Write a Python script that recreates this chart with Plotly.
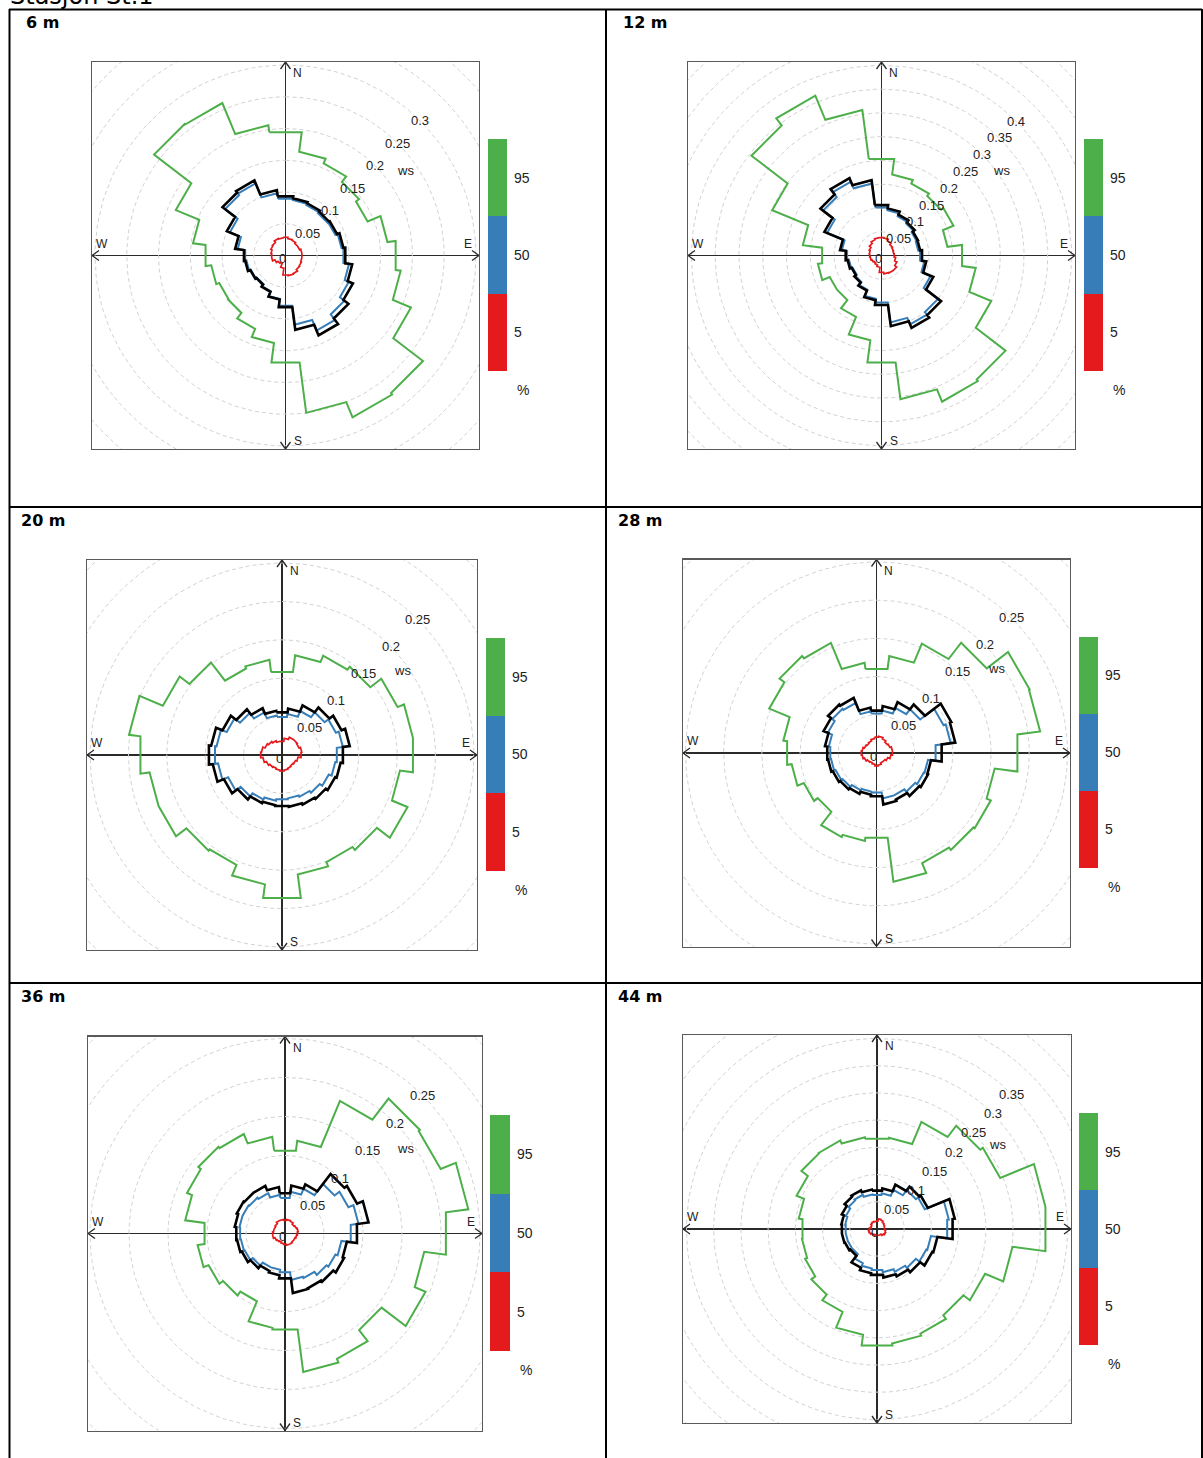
import math
import plotly.graph_objects as go

W, H = 1203, 1458

# ---------------- data ----------------
station = "Stasjon St.1"
depths = ["6 m", "12 m", "20 m", "28 m", "36 m", "44 m"]
wd_sectors = list(range(0, 360, 15))      # sector centres (deg)
sector_width = 15
pct_labels = ["5", "50", "95"]
ring_max = [0.30, 0.40, 0.25, 0.25, 0.25, 0.35]

p95_6m = [0.196, 0.165, 0.157, 0.146, 0.140, 0.162, 0.175, 0.183, 0.214, 0.273, 0.276, 0.250,
          0.170, 0.139, 0.125, 0.114, 0.113, 0.118, 0.127, 0.147, 0.187, 0.261, 0.260, 0.207]
mean_6m = [0.094, 0.091, 0.089, 0.087, 0.088, 0.092, 0.095, 0.106, 0.115, 0.125, 0.136, 0.118,
           0.082, 0.070, 0.062, 0.058, 0.060, 0.064, 0.066, 0.080, 0.100, 0.125, 0.128, 0.104]
p50_6m = [0.090, 0.088, 0.086, 0.084, 0.085, 0.089, 0.092, 0.101, 0.108, 0.117, 0.128, 0.110,
          0.080, 0.069, 0.061, 0.057, 0.059, 0.062, 0.064, 0.076, 0.095, 0.120, 0.123, 0.099]
p5_6m = [0.029, 0.027, 0.026, 0.024, 0.024, 0.026, 0.026, 0.026, 0.027, 0.028, 0.031, 0.032,
         0.031, 0.020, 0.014, 0.015, 0.018, 0.022, 0.022, 0.023, 0.025, 0.026, 0.029, 0.028]

p95_12m = [0.205, 0.172, 0.164, 0.158, 0.164, 0.140, 0.171, 0.200, 0.250, 0.329, 0.333, 0.305,
           0.227, 0.180, 0.140, 0.118, 0.118, 0.135, 0.126, 0.167, 0.249, 0.345, 0.364, 0.309]
mean_12m = [0.107, 0.100, 0.093, 0.088, 0.083, 0.082, 0.086, 0.095, 0.118, 0.158, 0.165, 0.150,
            0.105, 0.095, 0.080, 0.072, 0.068, 0.072, 0.076, 0.088, 0.130, 0.162, 0.176, 0.160]
p50_12m = [0.102, 0.096, 0.089, 0.085, 0.080, 0.078, 0.082, 0.091, 0.112, 0.150, 0.157, 0.142,
           0.100, 0.092, 0.078, 0.070, 0.066, 0.069, 0.073, 0.084, 0.124, 0.155, 0.168, 0.153]
p5_12m = [0.038, 0.037, 0.033, 0.029, 0.027, 0.026, 0.027, 0.030, 0.035, 0.040, 0.040, 0.039,
          0.036, 0.025, 0.022, 0.020, 0.022, 0.024, 0.025, 0.026, 0.028, 0.032, 0.036, 0.038]

p95_20m = [0.109, 0.131, 0.140, 0.145, 0.163, 0.172, 0.172, 0.155, 0.177, 0.156, 0.151, 0.157,
           0.188, 0.170, 0.155, 0.157, 0.174, 0.174, 0.186, 0.201, 0.168, 0.152, 0.122, 0.125]
mean_20m = [0.056, 0.061, 0.070, 0.078, 0.084, 0.089, 0.080, 0.077, 0.075, 0.072, 0.070, 0.068,
            0.067, 0.066, 0.068, 0.073, 0.082, 0.091, 0.096, 0.093, 0.084, 0.075, 0.066, 0.058]
p50_20m = [0.050, 0.054, 0.062, 0.070, 0.076, 0.080, 0.072, 0.070, 0.066, 0.062, 0.059, 0.057,
           0.058, 0.060, 0.063, 0.068, 0.076, 0.084, 0.088, 0.086, 0.078, 0.069, 0.060, 0.052]
p5_20m = [0.018, 0.022, 0.025, 0.025, 0.024, 0.026, 0.025, 0.021, 0.019, 0.018, 0.019, 0.020,
          0.021, 0.020, 0.019, 0.020, 0.022, 0.025, 0.028, 0.027, 0.024, 0.022, 0.020, 0.018]

p95_28m = [0.111, 0.128, 0.155, 0.182, 0.217, 0.216, 0.186, 0.156, 0.162, 0.160, 0.156, 0.170,
           0.112, 0.116, 0.119, 0.097, 0.103, 0.112, 0.118, 0.123, 0.152, 0.160, 0.156, 0.119]
mean_28m = [0.056, 0.062, 0.072, 0.080, 0.106, 0.104, 0.086, 0.072, 0.073, 0.071, 0.066, 0.068,
            0.057, 0.055, 0.058, 0.060, 0.062, 0.064, 0.065, 0.068, 0.075, 0.080, 0.078, 0.060]
p50_28m = [0.052, 0.056, 0.064, 0.072, 0.095, 0.098, 0.078, 0.068, 0.067, 0.064, 0.060, 0.060,
           0.052, 0.051, 0.053, 0.056, 0.058, 0.060, 0.061, 0.063, 0.069, 0.073, 0.071, 0.055]
p5_28m = [0.021, 0.022, 0.020, 0.018, 0.019, 0.021, 0.021, 0.019, 0.016, 0.014, 0.014, 0.016,
          0.017, 0.015, 0.014, 0.015, 0.017, 0.019, 0.020, 0.019, 0.017, 0.016, 0.017, 0.019]

p95_36m = [0.107, 0.120, 0.184, 0.218, 0.216, 0.237, 0.208, 0.180, 0.195, 0.156, 0.174, 0.179,
           0.124, 0.122, 0.094, 0.100, 0.106, 0.113, 0.104, 0.129, 0.136, 0.140, 0.138, 0.125]
mean_36m = [0.052, 0.062, 0.068, 0.096, 0.100, 0.108, 0.093, 0.080, 0.082, 0.078, 0.076, 0.077,
            0.058, 0.054, 0.052, 0.056, 0.060, 0.062, 0.063, 0.065, 0.067, 0.066, 0.066, 0.060]
p50_36m = [0.046, 0.054, 0.062, 0.080, 0.088, 0.095, 0.085, 0.073, 0.070, 0.067, 0.062, 0.060,
           0.050, 0.047, 0.047, 0.052, 0.056, 0.057, 0.058, 0.059, 0.059, 0.058, 0.056, 0.050]
p5_36m = [0.017, 0.018, 0.017, 0.015, 0.016, 0.017, 0.016, 0.015, 0.014, 0.014, 0.015, 0.015,
          0.014, 0.013, 0.012, 0.013, 0.014, 0.016, 0.016, 0.015, 0.015, 0.016, 0.018, 0.018]

p95_44m = [0.167, 0.169, 0.213, 0.239, 0.245, 0.312, 0.312, 0.251, 0.215, 0.200, 0.208, 0.212,
           0.216, 0.196, 0.165, 0.152, 0.143, 0.139, 0.138, 0.145, 0.160, 0.175, 0.176, 0.170]
mean_44m = [0.071, 0.075, 0.088, 0.098, 0.101, 0.144, 0.140, 0.112, 0.110, 0.100, 0.094, 0.090,
            0.085, 0.082, 0.077, 0.062, 0.064, 0.065, 0.065, 0.066, 0.070, 0.075, 0.077, 0.073]
p50_44m = [0.063, 0.066, 0.078, 0.090, 0.095, 0.133, 0.130, 0.100, 0.098, 0.090, 0.085, 0.080,
           0.076, 0.073, 0.068, 0.058, 0.058, 0.058, 0.058, 0.059, 0.062, 0.066, 0.068, 0.064]
p5_44m = [0.015, 0.019, 0.018, 0.016, 0.015, 0.014, 0.014, 0.016, 0.017, 0.015, 0.012, 0.012,
          0.012, 0.011, 0.012, 0.013, 0.015, 0.016, 0.014, 0.011, 0.012, 0.014, 0.015, 0.014]

series = [
    (p5_6m, p50_6m, p95_6m, mean_6m),
    (p5_12m, p50_12m, p95_12m, mean_12m),
    (p5_20m, p50_20m, p95_20m, mean_20m),
    (p5_28m, p50_28m, p95_28m, mean_28m),
    (p5_36m, p50_36m, p95_36m, mean_36m),
    (p5_44m, p50_44m, p95_44m, mean_44m),
]

# ---------------- layout geometry (pixels) ----------------
panels = [
    dict(cx=285.5, cy=255.5, half=193.5, rfac=1.016, leg=(488, 507, 139, 371), pct_y=390, title=(24, 23)),
    dict(cx=881.5, cy=255.5, half=193.5, rfac=1.018, leg=(1084, 1103, 139, 371), pct_y=390, title=(621, 23)),
    dict(cx=282.0, cy=755.0, half=195.0, rfac=1.016, leg=(486, 505, 638, 871), pct_y=890, title=(19, 520)),
    dict(cx=876.5, cy=753.0, half=193.5, rfac=1.013, leg=(1079, 1098, 637, 868), pct_y=887, title=(616, 520)),
    dict(cx=285.0, cy=1233.5, half=197.0, rfac=1.010, leg=(490, 510, 1115, 1351), pct_y=1370, title=(19, 996)),
    dict(cx=877.0, cy=1229.0, half=194.0, rfac=1.018, leg=(1079, 1098, 1113, 1345), pct_y=1364, title=(616, 996)),
]
COL = {"5": "#E41A1C", "50": "#377EB8", "95": "#4DAF4A", "mean": "#000000"}
TXT = "#222222"
LBL_FONT = "Liberation Sans, Arial, sans-serif"
HDR_FONT = "DejaVu Sans, Verdana, sans-serif"


def px(x):
    return x / W


def py(y):
    return 1 - y / H


def step_theta_r(vals):
    th, rr = [], []
    for c, r in zip(wd_sectors, vals):
        th += [c - sector_width / 2, c + sector_width / 2]
        rr += [r, r]
    th.append(th[0])
    rr.append(rr[0])
    return th, rr


fig = go.Figure()
annotations = []
shapes = []
layout = {}

for i, (pan, ser, rmax, depth) in enumerate(zip(panels, series, ring_max, depths)):
    k = i + 1
    R = rmax * pan["rfac"]
    ppu = pan["half"] / R
    x0, x1 = pan["cx"] - pan["half"], pan["cx"] + pan["half"]
    y0, y1 = pan["cy"] - pan["half"], pan["cy"] + pan["half"]
    dom_x = [px(x0), px(x1)]
    dom_y = [py(y1), py(y0)]

    xa = f"x{2 * k - 1}"
    ya = f"y{2 * k - 1}"
    xl = f"x{2 * k}"
    yl = f"y{2 * k}"

    # main cartesian frame
    layout[f"xaxis{2 * k - 1}"] = dict(domain=dom_x, range=[-R, R], anchor=ya, showgrid=False,
                                       zeroline=True, zerolinecolor="#2a2a2a", zerolinewidth=1.3,
                                       showline=True, mirror=True, linecolor="#5a5a5a", linewidth=1.2,
                                       showticklabels=False, ticks="", fixedrange=True)
    layout[f"yaxis{2 * k - 1}"] = dict(domain=dom_y, range=[-R, R], anchor=xa, showgrid=False,
                                       zeroline=True, zerolinecolor="#2a2a2a", zerolinewidth=1.3,
                                       showline=True, mirror=True, linecolor="#5a5a5a", linewidth=1.2,
                                       showticklabels=False, ticks="", fixedrange=True)

    # dashed rings (extend into corners)
    step = 0.05
    n_rings = int(R * math.sqrt(2) / step + 1e-9)
    for j in range(1, n_rings + 1):
        rv = j * step
        angs = [math.radians(a) for a in range(0, 361, 2)]
        fig.add_trace(go.Scatter(x=[rv * math.sin(a) for a in angs], y=[rv * math.cos(a) for a in angs],
                                 mode="lines", line=dict(color="#d2d2d2", width=1, dash="4px,3px"),
                                 xaxis=xa, yaxis=ya, hoverinfo="skip", showlegend=False))

    # arrow heads on the axis cross
    a = 5 / ppu
    b = 7 / ppu
    hx = [-a, 0, a, None, -a, 0, a, None, R - b, R, R - b, None, -R + b, -R, -R + b]
    hy = [R - b, R, R - b, None, -R + b, -R, -R + b, None, a, 0, -a, None, a, 0, -a]
    fig.add_trace(go.Scatter(x=hx, y=hy, mode="lines", line=dict(color="#2a2a2a", width=1.3),
                             xaxis=xa, yaxis=ya, hoverinfo="skip", showlegend=False))

    # polar subplot for the percentile roses
    pname = "polar" if k == 1 else f"polar{k}"
    layout[pname] = dict(domain=dict(x=dom_x, y=dom_y), bgcolor="rgba(0,0,0,0)",
                         radialaxis=dict(visible=False, range=[0, R], showgrid=False),
                         angularaxis=dict(visible=False, direction="clockwise", rotation=90,
                                          showgrid=False))
    p5, p50, p95, mn = ser
    for vals, key, wdt in [(p5, "5", 1.7), (p50, "50", 2.0), (p95, "95", 2.0), (mn, "mean", 2.6)]:
        th, rr = step_theta_r(vals)
        fig.add_trace(go.Scatterpolar(theta=th, r=rr, mode="lines", subplot=pname,
                                      line=dict(color=COL[key], width=wdt),
                                      hoverinfo="skip", showlegend=False))

    # ring labels along 45 deg
    for j in range(1, int(round(rmax / step)) + 1):
        rv = j * step
        annotations.append(dict(x=rv * math.sin(math.radians(45)), y=rv * math.cos(math.radians(45)),
                                xref=xa, yref=ya, text=f"{rv:g}", showarrow=False,
                                font=dict(family=LBL_FONT, size=13, color=TXT)))
    annotations.append(dict(x=0, y=0, xref=xa, yref=ya, text="0", showarrow=False, xshift=-3, yshift=-3,
                            font=dict(family=LBL_FONT, size=13, color=TXT)))
    annotations.append(dict(x=0, y=0, xref=xa, yref=ya, text="ws", showarrow=False, xshift=120, yshift=85,
                            font=dict(family=LBL_FONT, size=13, color=TXT)))
    for txt, xx, yy, xs, ys in [("N", 0, R, 12, -11), ("S", 0, -R, 12, 8),
                                ("W", -R, 0, 10, 12), ("E", R, 0, -11, 12)]:
        annotations.append(dict(x=xx, y=yy, xref=xa, yref=ya, text=txt, showarrow=False,
                                xshift=xs, yshift=ys, font=dict(family=LBL_FONT, size=12, color=TXT)))

    # colour key as stacked bars on a small axis
    lx0, lx1, ly0, ly1 = pan["leg"]
    layout[f"xaxis{2 * k}"] = dict(domain=[px(lx0), px(lx1)], range=[-0.5, 0.5], anchor=yl,
                                   visible=False, fixedrange=True)
    layout[f"yaxis{2 * k}"] = dict(domain=[py(ly1), py(ly0)], range=[0, 3], anchor=xl, side="right",
                                   tickvals=[0.5, 1.5, 2.5], ticktext=pct_labels, ticks="",
                                   showgrid=False, zeroline=False, showline=False, fixedrange=True,
                                   ticklabelstandoff=6,
                                   tickfont=dict(family=LBL_FONT, size=14, color=TXT))
    for lab in pct_labels:
        fig.add_trace(go.Bar(x=[0], y=[1], width=[1], marker=dict(color=COL[lab], line=dict(width=0)),
                             xaxis=xl, yaxis=yl, hoverinfo="skip", showlegend=False))
    annotations.append(dict(x=px(lx1 + 8), y=py(pan["pct_y"]), xref="paper", yref="paper", text="%",
                            xanchor="left", yanchor="middle", showarrow=False,
                            font=dict(family=LBL_FONT, size=14, color=TXT)))

    # panel heading
    tx, ty = pan["title"]
    annotations.append(dict(x=px(tx), y=py(ty), xref="paper", yref="paper", text=f"<b>{depth}</b>",
                            xanchor="left", yanchor="middle", showarrow=False,
                            font=dict(family=HDR_FONT, size=16, color="#000000")))

# station title (cut at the top edge, as in the reference)
annotations.append(dict(x=px(9), y=py(11), xref="paper", yref="paper", text=station, xanchor="left",
                        yanchor="bottom", showarrow=False, borderpad=0,
                        font=dict(family=HDR_FONT, size=24, color="#000000")))

# table grid lines
for (xa0, ya0, xa1, ya1) in [(9, 9.5, 1202, 9.5), (9.5, 9, 9.5, H), (1202, 9, 1202, H), (606, 9, 606, H),
                              (9, 507, 1202, 507), (9, 983, 1202, 983)]:
    shapes.append(dict(type="line", xref="paper", yref="paper", x0=px(xa0), y0=py(ya0), x1=px(xa1),
                       y1=py(ya1), line=dict(color="#000000", width=2)))

fig.update_layout(width=W, height=H, margin=dict(l=0, r=0, t=0, b=0), paper_bgcolor="white",
                  plot_bgcolor="rgba(0,0,0,0)", barmode="stack", bargap=0, showlegend=False,
                  annotations=annotations, shapes=shapes, **layout)

fig.write_html("out.html", config={"displayModeBar": False, "staticPlot": True},
               post_script="document.body.style.margin='0';document.body.style.overflow='hidden';")
